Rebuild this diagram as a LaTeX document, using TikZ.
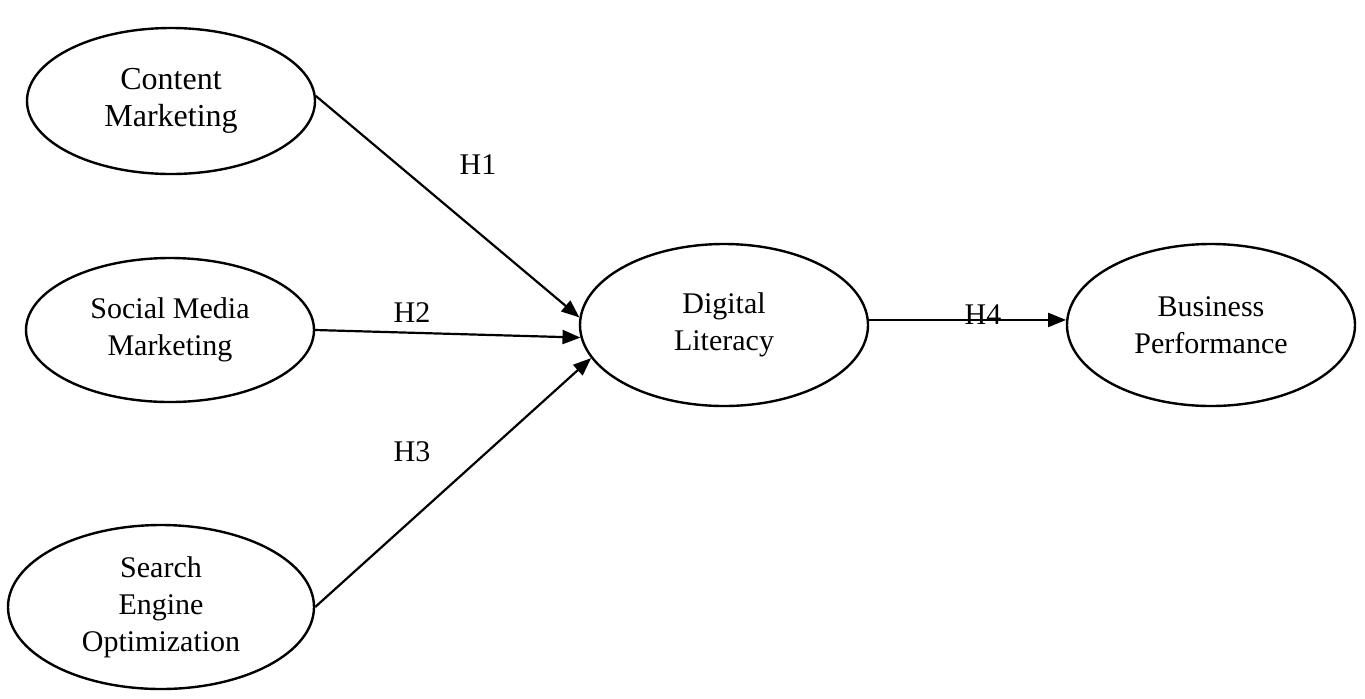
\documentclass[tikz,border=0pt]{standalone}
\usepackage{fontspec}
\setmainfont{Liberation Serif}
\usetikzlibrary{shapes.geometric,arrows.meta}

\tikzset{
	construct/.style={draw,ellipse,line width=1.2pt,inner sep=0pt,align=center,
		minimum width=144pt,minimum height=81pt,font=\fontsize{15}{18.5}\selectfont},
	path/.style={line width=1.1pt,-{Triangle[length=9pt,width=7pt]}},
	hyp/.style={font=\fontsize{15}{18}\selectfont}
}

\begin{document}
\begin{tikzpicture}[x=0.5pt,y=-0.5pt]
		\useasboundingbox (0,0) rectangle (1365,698);
		% constructs
		\node[construct,minimum height=73pt,font=\fontsize{16}{18.5}\selectfont] (cm) at (171,101) {Content\\Marketing};
		\node[construct,minimum height=72pt] (smm) at (170,330) {Social Media\\Marketing};
		\node[construct,minimum width=153pt,minimum height=82pt] (seo) at (161,607) {Search\\Engine\\Optimization};
		\node[construct] (dl) at (724,325) {Digital\\Literacy};
		\node[construct] (bp) at (1211,325) {Business\\Performance};
		% paths
		\draw[path] (cm.2) -- (dl.177);
		\draw[path] (smm.east) -- (dl.185);
		\draw[path] (seo.east) -- (dl.194);
		\draw[path] (dl.2) -- (bp.178);
		% hypotheses
		\node[hyp] (h1) at (478,165) {H1};
		\node[hyp] (h2) at (412,313) {H2};
		\node[hyp] (h3) at (412,452) {H3};
		\node[hyp] (h4) at (983,315) {H4};
	\end{tikzpicture}
\end{document}
